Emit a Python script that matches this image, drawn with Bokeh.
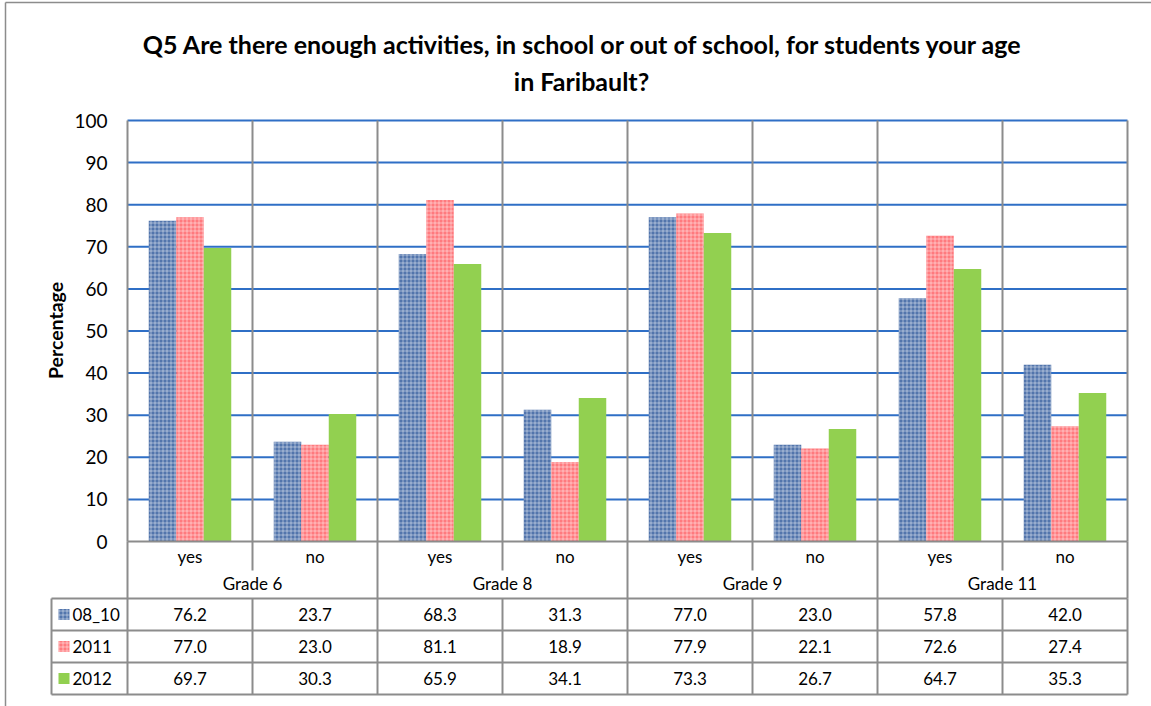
import math
from bokeh.plotting import figure
from bokeh.models import Range1d
from bokeh.core.properties import value
from bokeh.embed import file_html
from bokeh.resources import INLINE

# ---------------- data ----------------
title_line1 = "Q5 Are there enough activities, in school or out of school, for students your age"
title_line2 = "in Faribault?"
grades = ["Grade 6", "Grade 8", "Grade 9", "Grade 11"]
answers = ["yes", "no"]
series_names = ["08_10", "2011", "2012"]
values_08_10 = [76.2, 23.7, 68.3, 31.3, 77.0, 23.0, 57.8, 42.0]
values_2011 = [77.0, 23.0, 81.1, 18.9, 77.9, 22.1, 72.6, 27.4]
values_2012 = [69.7, 30.3, 65.9, 34.1, 73.3, 26.7, 64.7, 35.3]
y_ticks = [0, 10, 20, 30, 40, 50, 60, 70, 80, 90, 100]
y_label = "Percentage"

# ---------------- layout helpers (page pixels -> data units) ----------------
PX_LEFT, PX_PER_CAT = 127, 125.0
PX_ZERO, PX_PER_UNIT = 541, 4.21


def X(px):
    return (px - PX_LEFT) / PX_PER_CAT


def Y(py):
    return (PX_ZERO - py) / PX_PER_UNIT


W, H = 1151, 706
FONT = value("Lato")
GRID_BLUE = "#2F6FC6"
GRAY = "#8C8C8C"

p = figure(width=W, height=H, x_range=Range1d(X(0), X(W)),
           y_range=Range1d(Y(H), Y(0)), output_backend="svg",
           toolbar_location=None, x_axis_type=None, y_axis_type=None,
           min_border=0, title=None)
p.outline_line_color = None
p.background_fill_color = "white"
p.border_fill_color = "white"

# outer chart border (left and top edges visible)
p.segment(x0=[X(5), X(5)], x1=[X(5), X(W + 5)], y0=[Y(2), Y(2)],
          y1=[Y(H + 5), Y(2)], line_color=GRAY, line_width=1.5)

n_cat = len(grades) * len(answers)
cat_labels = [a for g in grades for a in answers]
centers = [i + 0.5 for i in range(n_cat)]

# horizontal gridlines (blue)
gl = [t for t in y_ticks if t > 0]
p.segment(x0=[0] * len(gl), x1=[n_cat] * len(gl), y0=gl, y1=gl,
          line_color=GRID_BLUE, line_width=2)

# bars
bar_w = 0.22
styles = [
    dict(fill_color="#5275AC", hatch_pattern="+", hatch_color="white",
         hatch_alpha=0.45, hatch_scale=4, hatch_weight=1),
    dict(fill_color="#FF7A7E", hatch_pattern="+", hatch_color="white",
         hatch_alpha=0.45, hatch_scale=4, hatch_weight=1),
    dict(fill_color="#92D050"),
]
all_vals = [values_08_10, values_2011, values_2012]
offsets = [-bar_w, 0.0, bar_w]
for vals, off, st in zip(all_vals, offsets, styles):
    p.vbar(x=[c + off for c in centers], top=vals, bottom=0, width=bar_w,
           line_color=None, **st)

# vertical category separators in the plot area
vx = list(range(n_cat + 1))
p.segment(x0=vx, x1=vx, y0=[0] * len(vx), y1=[100] * len(vx),
          line_color=GRAY, line_width=2)
# zero line
p.segment(x0=[0], x1=[n_cat], y0=[0], y1=[0], line_color=GRAY, line_width=2)

# category label area separators
gb = [x for x in vx if x % 2 == 0]
ab = [x for x in vx if x % 2 == 1]
p.segment(x0=gb, x1=gb, y0=[0] * len(gb), y1=[Y(598)] * len(gb),
          line_color=GRAY, line_width=2)
p.segment(x0=ab, x1=ab, y0=[0] * len(ab), y1=[Y(570)] * len(ab),
          line_color=GRAY, line_width=2)

# data table grid
row_tops = [598 + 32 * k for k in range(len(series_names) + 1)]
p.segment(x0=[X(51)] * len(row_tops), x1=[n_cat] * len(row_tops),
          y0=[Y(r) for r in row_tops], y1=[Y(r) for r in row_tops],
          line_color=GRAY, line_width=2)
tvx = [X(51)] + vx
p.segment(x0=tvx, x1=tvx, y0=[Y(598)] * len(tvx), y1=[Y(row_tops[-1])] * len(tvx),
          line_color=GRAY, line_width=2)

# category labels
p.text(x=centers, y=[Y(556)] * n_cat, text=cat_labels, text_font=FONT,
       text_font_size="17px", text_align="center", text_baseline="middle",
       text_color="black")
p.text(x=[2 * g + 1 for g in range(len(grades))], y=[Y(583)] * len(grades),
       text=grades, text_font=FONT, text_font_size="17px", text_align="center",
       text_baseline="middle", text_color="black")

# table values + legend keys
for si, (name, vals, st) in enumerate(zip(series_names, all_vals, styles)):
    ry = Y(614 + 32 * si)
    p.text(x=centers, y=[ry] * n_cat, text=[f"{v:.1f}" for v in vals],
           text_font=FONT, text_font_size="17px", text_align="center",
           text_baseline="middle", text_color="black")
    p.rect(x=[X(63.5)], y=[ry], width=11, height=11, width_units="screen",
           height_units="screen", line_color=None, **st)
    p.text(x=[X(72)], y=[ry], text=[name], text_font=FONT,
           text_font_size="17px", text_align="left", text_baseline="middle",
           text_color="black")

# y tick labels and axis title
p.text(x=[X(107)] * len(y_ticks), y=y_ticks, text=[str(t) for t in y_ticks],
       text_font=FONT, text_font_size="19px", text_align="right",
       text_baseline="middle", text_color="black")
p.text(x=[X(55)], y=[Y(330)], text=[y_label], angle=math.pi / 2,
       text_font=FONT, text_font_size="19.5px", text_font_style="bold",
       text_align="center", text_baseline="middle", text_color="black")

# title
p.text(x=[X(583)], y=[Y(43)], text=[title_line1], text_font=FONT,
       text_font_size="25px", text_font_style="bold", text_align="center",
       text_baseline="middle", text_color="black")
p.text(x=[X(581)], y=[Y(80)], text=[title_line2], text_font=FONT,
       text_font_size="25px", text_font_style="bold", text_align="center",
       text_baseline="middle", text_color="black")

open("out.html", "w").write(file_html(p, INLINE))
